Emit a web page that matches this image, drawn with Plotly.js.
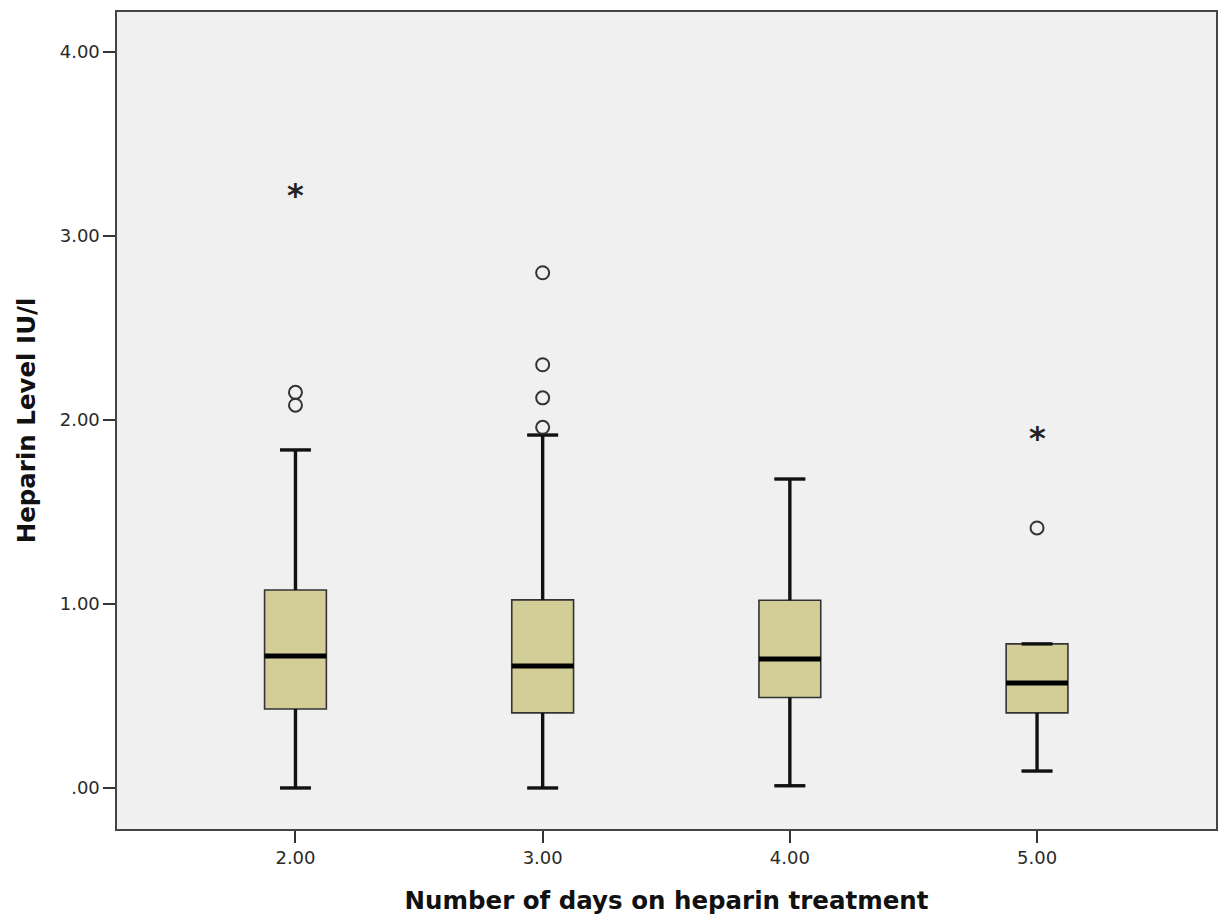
<!DOCTYPE html>
<html>
<head>
<meta charset="utf-8">
<script src="https://cdn.plot.ly/plotly-3.0.1.min.js"></script>
<style>
  html, body { margin: 0; padding: 0; background: #ffffff; }
  #chart { width: 1219px; height: 920px; }
</style>
</head>
<body>
<div id="chart"></div>
<script>
// Heparin level (IU/l) by number of days on heparin treatment
const days = [2, 3, 4, 5];
const dayLabels = ['2.00', '3.00', '4.00', '5.00'];
const lowerWhisker = [0.00, 0.00, 0.012, 0.092];
const q1 = [0.429, 0.408, 0.492, 0.408];
const medians = [0.717, 0.663, 0.701, 0.571];
const q3 = [1.076, 1.022, 1.020, 0.783];
const upperWhisker = [1.837, 1.918, 1.679, 0.783];

// outliers (circles) and extreme values (stars)
const outlierDay = [2, 2, 3, 3, 3, 3, 5];
const outlierLevel = [2.15, 2.08, 2.80, 2.30, 2.12, 1.96, 1.413];
const extremeDay = [2, 5];
const extremeLevel = [3.24, 1.918];

const yTicks = [0, 1, 2, 3, 4];
const yTickLabels = ['.00', '1.00', '2.00', '3.00', '4.00'];

const boxWidth = 0.25;
const capHalf = boxWidth / 4;

// whisker stems and caps, drawn heavier than the box outline
const wx = [], wy = [];
const mx = [], my = [];
days.forEach((d, i) => {
  wx.push(d, d, null, d - capHalf, d + capHalf, null);
  wy.push(q3[i], upperWhisker[i], null, upperWhisker[i], upperWhisker[i], null);
  wx.push(d, d, null, d - capHalf, d + capHalf, null);
  wy.push(q1[i], lowerWhisker[i], null, lowerWhisker[i], lowerWhisker[i], null);
  mx.push(d - boxWidth / 2, d + boxWidth / 2, null);
  my.push(medians[i], medians[i], null);
});

const traces = [
  {
    type: 'box',
    x: days,
    q1: q1,
    median: medians,
    q3: q3,
    lowerfence: lowerWhisker,
    upperfence: upperWhisker,
    width: boxWidth,
    whiskerwidth: 0.5,
    fillcolor: '#d3ce98',
    line: { color: '#333333', width: 1.6 },
    boxpoints: false,
    hoverinfo: 'skip',
    showlegend: false
  },
  {
    type: 'scatter',
    mode: 'lines',
    x: wx,
    y: wy,
    line: { color: '#111111', width: 3.4 },
    hoverinfo: 'skip',
    showlegend: false
  },
  {
    type: 'scatter',
    mode: 'lines',
    x: mx,
    y: my,
    line: { color: '#000000', width: 5 },
    hoverinfo: 'skip',
    showlegend: false
  },
  {
    type: 'scatter',
    mode: 'markers',
    x: outlierDay,
    y: outlierLevel,
    marker: { symbol: 'circle-open', size: 13, color: '#333333', line: { width: 2, color: '#333333' } },
    showlegend: false
  }
];

// extreme values marked with an asterisk glyph at their data position
const extremeMarks = extremeDay.map((d, i) => ({
  x: d,
  y: extremeLevel[i],
  xref: 'x',
  yref: 'y',
  text: '*',
  showarrow: false,
  yshift: -3,
  font: { family: 'DejaVu Sans', size: 32, color: '#222222', weight: 'bold' }
}));

const layout = {
  width: 1219,
  height: 920,
  margin: { l: 117, r: 3, t: 12, b: 91 },
  paper_bgcolor: '#ffffff',
  plot_bgcolor: '#f0f0f0',
  showlegend: false,
  annotations: extremeMarks,
  xaxis: {
    range: [1.278, 5.724],
    tickmode: 'array',
    tickvals: days,
    ticktext: dayLabels,
    ticks: 'outside',
    ticklen: 12,
    tickwidth: 2,
    tickcolor: '#333333',
    showgrid: false,
    zeroline: false,
    showline: true,
    mirror: true,
    linecolor: '#444444',
    linewidth: 1.6,
    tickfont: { family: 'DejaVu Sans', size: 18, color: '#2a2a2a' },
    title: {
      text: 'Number of days on heparin treatment',
      font: { family: 'DejaVu Sans', size: 24.5, color: '#111111', weight: 'bold' },
      standoff: 24
    }
  },
  yaxis: {
    range: [-0.223, 4.217],
    tickmode: 'array',
    tickvals: yTicks,
    ticktext: yTickLabels,
    ticks: 'outside',
    ticklen: 12,
    tickwidth: 2,
    tickcolor: '#333333',
    showgrid: false,
    zeroline: false,
    showline: true,
    mirror: true,
    linecolor: '#444444',
    linewidth: 1.6,
    tickfont: { family: 'DejaVu Sans', size: 18, color: '#2a2a2a' },
    title: {
      text: 'Heparin Level IU/l',
      font: { family: 'DejaVu Sans', size: 24.5, color: '#111111', weight: 'bold' },
      standoff: 17
    }
  }
};

Plotly.newPlot('chart', traces, layout, { displayModeBar: false, staticPlot: true });
</script>
</body>
</html>
